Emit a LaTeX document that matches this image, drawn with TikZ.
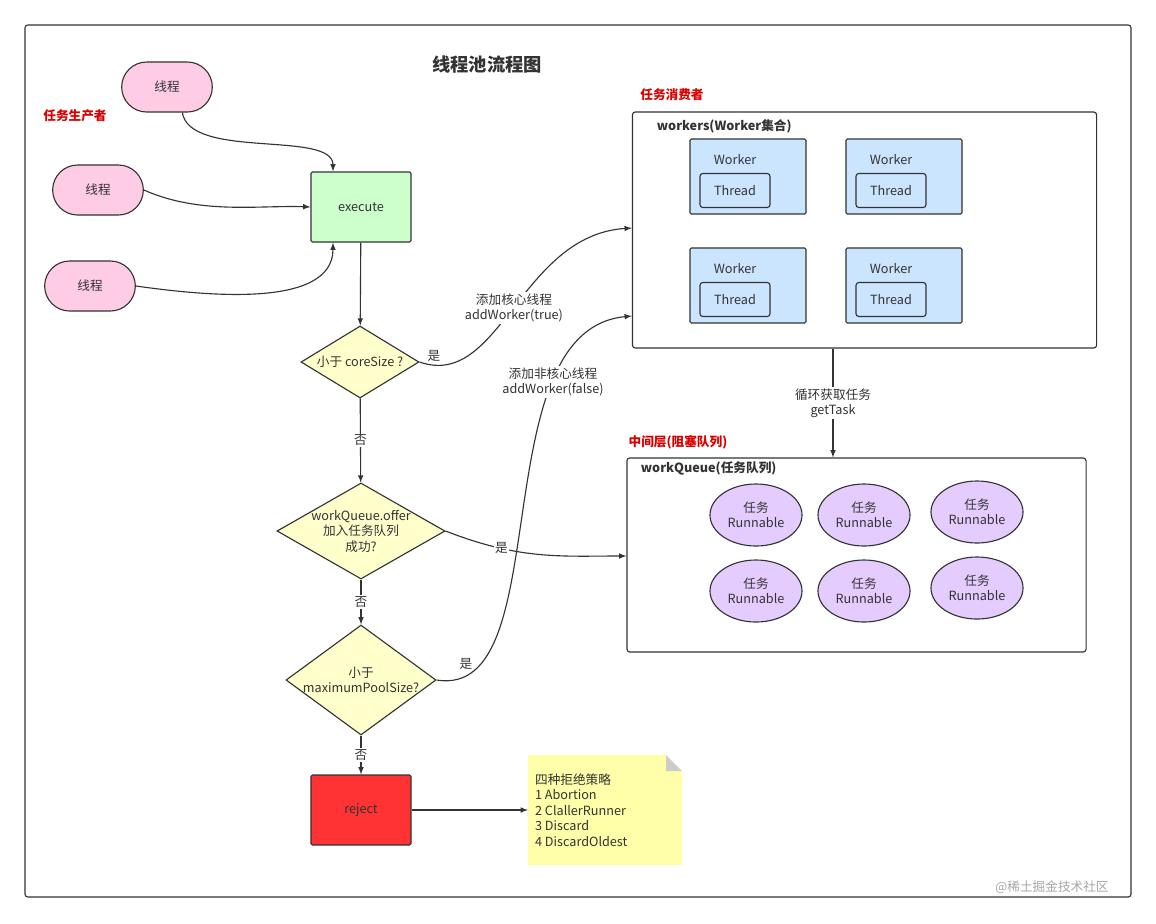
\documentclass[tikz,border=0pt]{standalone}
\usepackage{fontspec}
\setmainfont{Noto Sans CJK SC}
\usetikzlibrary{shapes.geometric,shapes.misc}
\definecolor{pinkfill}{HTML}{FFCCE6}
\definecolor{greenfill}{HTML}{CCFFCC}
\definecolor{yellowfill}{HTML}{FFFFCC}
\definecolor{notefill}{HTML}{FFFFAA}
\definecolor{bluefill}{HTML}{CCE5FF}
\definecolor{purplefill}{HTML}{E5CCFF}
\definecolor{redfill}{HTML}{FF3333}
\definecolor{linecol}{HTML}{333333}
\tikzset{
  every node/.style={font=\fontsize{9}{11}\selectfont, text=linecol},
  thread/.style={rounded rectangle, draw=linecol, thick, fill=pinkfill, minimum width=2.5cm, minimum height=1.25cm},
  box/.style={rectangle, rounded corners=1pt, draw=linecol, thick, minimum width=2.5cm, minimum height=1.75cm},
  decision/.style={diamond, draw=linecol, thick, fill=yellowfill, inner sep=0pt},
  worker/.style={rectangle, rounded corners=1pt, draw=linecol, thick, fill=bluefill, minimum width=2.9cm, minimum height=1.875cm},
  inner/.style={rectangle, rounded corners=2pt, draw=linecol, thick, fill=bluefill, minimum width=1.75cm, minimum height=0.85cm},
  task/.style={ellipse, draw=linecol, thick, fill=purplefill, minimum width=2.3cm, minimum height=1.55cm, align=center, inner sep=0pt},
  group/.style={font=\fontsize{9}{11}\selectfont\bfseries, red!85!black},
  flow/.style={-latex, thick, linecol},
  lbl/.style={fill=white, inner sep=1pt, align=center}
}
\begin{document}
\begin{tikzpicture}[x=0.025cm, y=-0.025cm]
  \useasboundingbox (0,0) rectangle (1156,923);
  \draw[linecol, thick, rounded corners=2pt] (25,25) rectangle (1131,897);

  \node (title) at (487,65) [font=\fontsize{13}{15}\selectfont\bfseries] {线程池流程图};
  \node (producer) at (75,116) [group] {任务生产者};
  \node (consumer) at (672,95) [group] {任务消费者};
  \node (middle) at (678,442) [group] {中间层(阻塞队列)};

  % producers
  \node (t1) at (167,87) [thread] {线程};
  \node (t2) at (98,190) [thread] {线程};
  \node (t3) at (90,286) [thread] {线程};

  \node (exec) at (361,207) [box, fill=greenfill] {execute};

  % decisions
  \node (d1) at (360,362) [decision, minimum width=2.95cm, minimum height=1.8cm] {};
  \node (d1t) at (d1) {小于 coreSize ?};
  \node (d2) at (361,531) [decision, minimum width=4.2cm, minimum height=2.4cm] {};
  \node (d2t) at (d2) [align=center] {workQueue.offer\\加入任务队列\\成功?};
  \node (d3) at (361,680) [decision, minimum width=3.75cm, minimum height=2.75cm] {};
  \node (d3t) at (d3) [align=center] {小于\\maximumPoolSize?};

  \node (reject) at (361,810) [box, fill=redfill] {reject};

  % note
  \fill[notefill] (528,755) -- (666,755) -- (682,771) -- (682,865) -- (528,865) -- cycle;
  \fill[linecol!25] (666,755) -- (666,771) -- (682,771) -- cycle;
  \node (note) at (532,810) [anchor=west, align=left, inner sep=2pt] {四种拒绝策略\\1 Abortion\\2 ClallerRunner\\3 Discard\\4 DiscardOldest};
  \coordinate (notein) at (528,810);

  % workers
  \node (workers) at (864.5,230) [rectangle, rounded corners=2pt, draw=linecol, thick, minimum width=11.6cm, minimum height=5.9cm] {};
  \node at (652,126) [anchor=west, font=\fontsize{9}{11}\selectfont\bfseries] {workers(Worker集合)};
  \foreach \x/\y [count=\i] in {748/176.5, 904/176.5, 748/285.5, 904/285.5} {
    \node (w\i) at (\x,\y) [worker] {};
    \node at (\x-13,\y-17) {Worker};
    \node (th\i) at (\x-13,\y+14) [inner] {Thread};
  }

  % work queue
  \node (queue) at (856.5,555) [rectangle, rounded corners=2pt, draw=linecol, thick, minimum width=11.475cm, minimum height=4.85cm] {};
  \node at (636,468) [anchor=west, font=\fontsize{9}{11}\selectfont\bfseries] {workQueue(任务队列)};
  \foreach \x/\y [count=\i] in {756/515, 864/515, 977/512, 756/591, 864/591, 977/588}
    \node (r\i) at (\x,\y) [task] {任务\\Runnable};

  % connectors
  \draw[flow] (t1.south east) ++(-5,0) coordinate (t1o) (t1o) .. controls (190,160) and (333,130) .. (exec.north -| 333,0);
  \draw[flow] (t2.east) .. controls (200,215) and (260,205) .. (exec.west);
  \draw[flow] (t3.east) .. controls (200,295) and (333,310) .. (exec.south -| 333,0);
  \draw[flow] (exec) -- (d1);
  \draw[flow] (d1) -- node[lbl] {否} (d2);
  \draw[flow] (d2) -- node[lbl] {否} (d3);
  \draw[flow] (d3) -- node[lbl] {否} (reject);
  \draw[flow] (reject) -- (notein);
  \draw[flow] (d1.east) .. controls (500,390) and (520,235) .. node[lbl, pos=0.5] {添加核心线程\\addWorker(true)} (workers.west |- 0,228);
  \node at (434,356) {是};
  \draw[flow] (d2.east) .. controls (520,560) and (560,556) .. node[lbl, pos=0.28] {是} (queue.west |- 0,556);
  \draw[flow] (d3.east) .. controls (560,700) and (480,330) .. (workers.west |- 0,316);
  \node at (466,664) {是};
  \node at (553,382) [lbl] {添加非核心线程\\addWorker(false)};
  \draw[flow] (workers.south -| 833,0) -- node[lbl] {循环获取任务\\getTask} (queue.north -| 833,0);

  \node (mark) at (1052,887) [text=gray!70] {@稀土掘金技术社区};
\end{tikzpicture}
\end{document}
